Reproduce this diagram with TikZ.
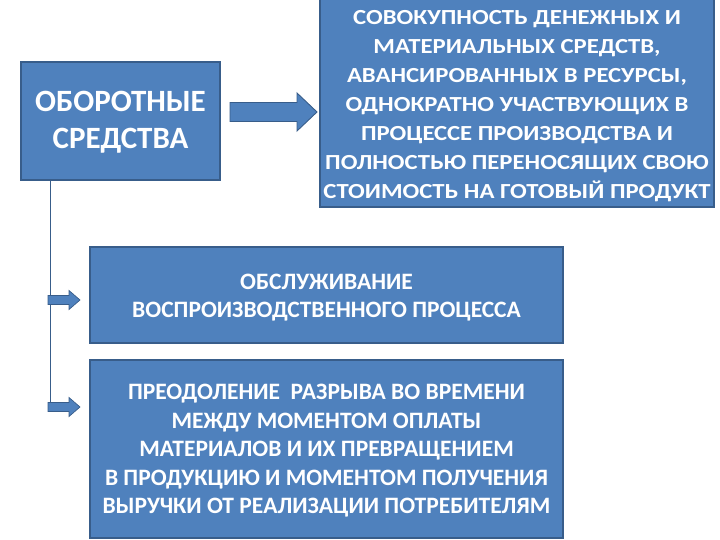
\documentclass[tikz,border=0pt]{standalone}
\usepackage{fontspec}
\setmainfont{Carlito}
\newfontfamily\widefont[FakeStretch=1.15]{Carlito}
\definecolor{boxfill}{HTML}{4F81BD}
\definecolor{boxline}{HTML}{385D8A}
\begin{document}
\begin{tikzpicture}[x=1pt,y=-1pt,
  bluebox/.style={draw=boxline,line width=1.2pt,fill=boxfill,inner sep=0pt},
  boxtext/.style={text=white,font=\bfseries,align=center,inner sep=0pt},
  blockarr/.style={draw=boxline,line width=0.9pt,fill=boxfill,line join=miter}]
\useasboundingbox (0,0) rectangle (720,540);
% boxes
\node[bluebox,minimum width=199pt,minimum height=118pt] (b1) at (120.5,121) {};
\node[bluebox,minimum width=394pt,minimum height=210pt] (b2) at (517,102) {};
\node[bluebox,minimum width=473pt,minimum height=96pt] (b3) at (326.5,295) {};
\node[bluebox,minimum width=473pt,minimum height=178pt] (b4) at (326.5,449) {};
% texts
\node[boxtext,font=\fontsize{31}{37}\selectfont\bfseries] (t1) at (120.5,122) {ОБОРОТНЫЕ\\СРЕДСТВА};
\node[boxtext,font=\widefont\fontsize{21.5}{29}\selectfont\bfseries] (t2) at (517,106) {СОВОКУПНОСТЬ ДЕНЕЖНЫХ И\\МАТЕРИАЛЬНЫХ СРЕДСТВ,\\АВАНСИРОВАННЫХ В РЕСУРСЫ,\\ОДНОКРАТНО УЧАСТВУЮЩИХ В\\ПРОЦЕССЕ ПРОИЗВОДСТВА И\\ПОЛНОСТЬЮ ПЕРЕНОСЯЩИХ СВОЮ\\СТОИМОСТЬ НА ГОТОВЫЙ ПРОДУКТ};
\node[boxtext,font=\fontsize{23.5}{28}\selectfont\bfseries] (t3) at (326.5,298) {ОБСЛУЖИВАНИЕ\\ВОСПРОИЗВОДСТВЕННОГО ПРОЦЕССА};
\node[boxtext,font=\fontsize{23.5}{28.5}\selectfont\bfseries] (t4) at (326.5,451) {ПРЕОДОЛЕНИЕ\ \ РАЗРЫВА ВО ВРЕМЕНИ\\МЕЖДУ МОМЕНТОМ ОПЛАТЫ\\МАТЕРИАЛОВ И ИХ ПРЕВРАЩЕНИЕМ\\В ПРОДУКЦИЮ И МОМЕНТОМ ПОЛУЧЕНИЯ\\ВЫРУЧКИ ОТ РЕАЛИЗАЦИИ ПОТРЕБИТЕЛЯМ};
% big arrow b1 -> b2
\coordinate (a0) at (230,112);
\draw[blockarr] (a0) ++(0,-9.5) -- ++(67,0) -- ++(0,-9.5) -- (317,112) -- (297,131) -- ++(0,-9.5) -- ++(-67,0) -- cycle;
% vertical line
\coordinate (vtop) at (50,181);
\coordinate (vbot) at (50,407);
\draw[boxline,line width=0.9pt] (vtop) -- (vbot);
% small arrows
\foreach \yy/\nm in {300/s1,407/s2}{
  \coordinate (\nm) at (48,\yy);
  \draw[blockarr,line width=0.7pt] (\nm) ++(0,-4.5) -- ++(21,0) -- ++(0,-5) -- ++(11,9.5) -- ++(-11,9.5) -- ++(0,-5) -- ++(-21,0) -- cycle;
}
\end{tikzpicture}
\end{document}
